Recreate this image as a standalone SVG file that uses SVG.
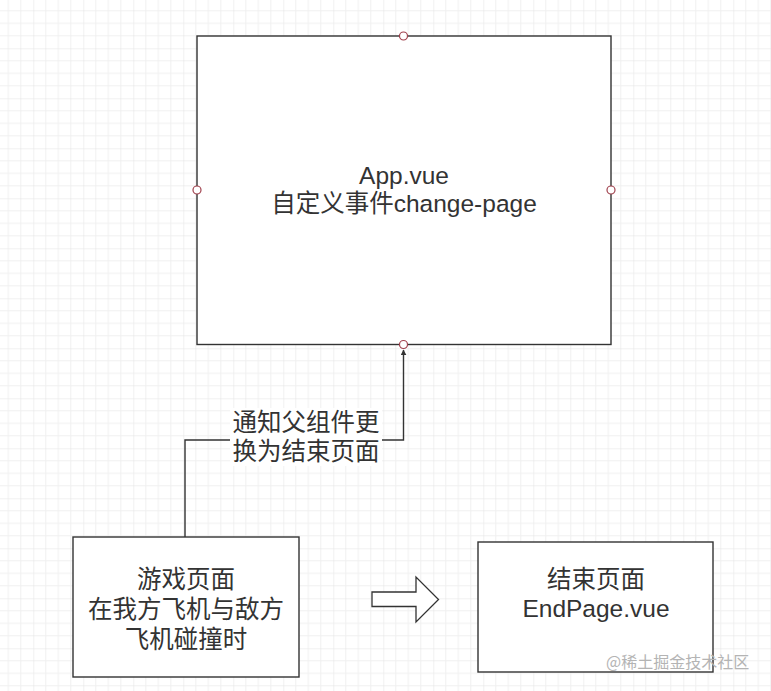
<svg xmlns="http://www.w3.org/2000/svg" width="771" height="691" viewBox="0 0 771 691">
  <style>
    .box { fill: #ffffff; stroke: #333333; stroke-width: 1.4; }
    .port { fill: #ffffff; stroke: #a0404c; stroke-width: 1.2; }
    .txt { font-family: "Liberation Sans", "Noto Sans CJK SC", sans-serif; font-size: 24.5px; fill: #333333; text-anchor: middle; }
    .edge { fill: none; stroke: #333333; stroke-width: 1.4; }
    .wm { font-family: "Noto Sans CJK SC", "Noto Sans", sans-serif; font-size: 16px; fill: #b4b4b4; }
  </style>
  <defs>
    <pattern id="grid" patternUnits="userSpaceOnUse" x="33.3" y="48.3" width="50" height="50">
      <path d="M12.5 0V50M25 0V50M37.5 0V50M0 12.5H50M0 25H50M0 37.5H50" stroke="#f0f0f0" stroke-width="1" fill="none"/>
      <path d="M0 0V50M0 0H50" stroke="#e3e3e3" stroke-width="1" fill="none"/>
    </pattern>
    <marker id="arrow" viewBox="0 0 10 10" refX="9" refY="5" markerWidth="6" markerHeight="6" markerUnits="userSpaceOnUse" orient="auto">
      <path d="M0 0L10 5L0 10Z" fill="#333333"/>
    </marker>
  </defs>
  <rect x="0" y="0" width="771" height="691" fill="#ffffff"/>
  <rect x="0" y="0" width="771" height="691" fill="url(#grid)"/>

  <g id="connectors">
    <polyline class="edge" points="185,537 185,440 403.5,440 403.5,350" marker-end="url(#arrow)"/>
    <path d="M372 592H416V577L438.5 599.5L416 622V606.5H372Z" fill="#ffffff" stroke="#333333" stroke-width="1.3"/>
  </g>

  <g id="app">
    <rect class="box" x="197" y="36" width="414" height="308.5"/>
    <text class="txt"><tspan x="404" y="184">App.vue</tspan><tspan x="404" y="212">自定义事件change-page</tspan></text>
    <circle class="port" cx="403.5" cy="36" r="4"/>
    <circle class="port" cx="197" cy="190" r="4"/>
    <circle class="port" cx="611" cy="190" r="4"/>
    <circle class="port" cx="403.5" cy="344.5" r="4"/>
  </g>

  <g id="edge-label">
    <rect x="230" y="408" width="152" height="58" fill="#ffffff"/>
    <text class="txt"><tspan x="306" y="431">通知父组件更</tspan><tspan x="306" y="460">换为结束页面</tspan></text>
  </g>

  <g id="game">
    <rect class="box" x="73" y="537" width="226" height="140"/>
    <text class="txt"><tspan x="186" y="588">游戏页面</tspan><tspan x="186" y="618">在我方飞机与敌方</tspan><tspan x="186" y="648">飞机碰撞时</tspan></text>
  </g>

  <g id="end">
    <rect class="box" x="478" y="542" width="235" height="130"/>
    <text class="txt"><tspan x="596" y="588">结束页面</tspan><tspan x="596" y="617">EndPage.vue</tspan></text>
  </g>

  <text class="wm" x="606" y="668">@稀土掘金技术社区</text>
</svg>
